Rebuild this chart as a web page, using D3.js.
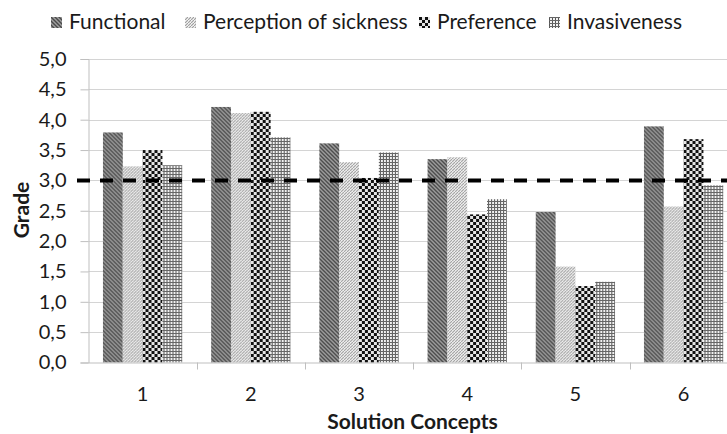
<!DOCTYPE html>
<html><head><meta charset="utf-8">
<script src="https://cdn.jsdelivr.net/npm/d3@7"></script>
<style>
html,body{margin:0;padding:0;background:#fff;}
svg{display:block;font-family:Lato, "Open Sans", sans-serif;}
</style></head>
<body><svg id="chart" width="727" height="434"></svg>
<script>
const categories = ["1","2","3","4","5","6"];
const seriesNames = ["Functional","Perception of sickness","Preference","Invasiveness"];
const functional = [3.79, 4.21, 3.61, 3.35, 2.48, 3.89];
const perception = [3.23, 4.11, 3.30, 3.38, 1.58, 2.57];
const preference = [3.50, 4.13, 3.04, 2.44, 1.26, 3.68];
const invasiveness = [3.25, 3.71, 3.46, 2.69, 1.33, 2.92];
const yTicks = [0,0.5,1,1.5,2,2.5,3,3.5,4,4.5,5];
const threshold = 3.0;
const seriesValues = [functional, perception, preference, invasiveness];

const svg = d3.select("#chart");
const defs = svg.append("defs");

// patterns
const p0 = defs.append("pattern").attr("id","pat0").attr("patternUnits","userSpaceOnUse").attr("width",4).attr("height",4);
p0.append("rect").attr("width",4).attr("height",4).attr("fill","#a0a0a0");
p0.append("path").attr("d","M-1,-1L5,5M3,-1L5,1M-1,3L1,5").attr("stroke","#4a4a4a").attr("stroke-width",1.4);

const p1 = defs.append("pattern").attr("id","pat1").attr("patternUnits","userSpaceOnUse").attr("width",3).attr("height",3);
p1.append("rect").attr("width",3).attr("height",3).attr("fill","#f4f4f4");
p1.append("path").attr("d","M-1,4L4,-1").attr("stroke","#9c9c9c").attr("stroke-width",1.1);

const p2 = defs.append("pattern").attr("id","pat2").attr("patternUnits","userSpaceOnUse").attr("width",6).attr("height",6);
p2.append("rect").attr("width",6).attr("height",6).attr("fill","#e6e6e6");
p2.append("rect").attr("width",3).attr("height",3).attr("fill","#111");
p2.append("rect").attr("x",3).attr("y",3).attr("width",3).attr("height",3).attr("fill","#111");

const p3 = defs.append("pattern").attr("id","pat3").attr("patternUnits","userSpaceOnUse").attr("width",3).attr("height",3);
p3.append("rect").attr("width",3).attr("height",3).attr("fill","#f2f2f2");
p3.append("rect").attr("width",1).attr("height",3).attr("fill","#555");
p3.append("rect").attr("width",3).attr("height",1).attr("fill","#666");

const fills = ["url(#pat0)","url(#pat1)","url(#pat2)","url(#pat3)"];

const left = 88.5, bandStep = 108.2;
const x0 = d3.scaleBand().domain(categories).range([left, left + bandStep*categories.length]).padding(0);
const x1 = d3.scaleBand().domain(seriesNames).range([0, x0.bandwidth()]).paddingInner(0).paddingOuter(0.73);
const y = d3.scaleLinear().domain([0,5]).range([362.5, 59]);

// gridlines
svg.append("g").selectAll("line").data(yTicks.slice(1)).join("line")
  .attr("x1", left).attr("x2", 727)
  .attr("y1", d=>Math.round(y(d))+0.5).attr("y2", d=>Math.round(y(d))+0.5)
  .attr("stroke","#d4d4d4").attr("stroke-width",1.2);

// y axis
const yAxis = d3.axisLeft(y).tickValues(yTicks).tickSize(8).tickPadding(14)
  .tickFormat(d => d3.format(".1f")(d).replace(".", ","));
const gy = svg.append("g").attr("transform", `translate(${left},0)`).call(yAxis);
gy.select(".domain").attr("stroke","#bfbfbf");
gy.selectAll(".tick line").attr("stroke","#bfbfbf");
gy.selectAll(".tick text").attr("fill","#1a1a1a").style("font-size","20px").style("font-family","Lato");

// bars
const groups = svg.append("g").selectAll("g").data(categories).join("g")
  .attr("transform", c => `translate(${x0(c)},0)`);
groups.selectAll("rect").data((c,i) => seriesNames.map((s,j) => ({s, j, v: seriesValues[j][i]}))).join("rect")
  .attr("x", d => x1(d.s)).attr("width", x1.bandwidth())
  .attr("y", d => y(d.v)).attr("height", d => y(0) - y(d.v))
  .attr("fill", d => fills[d.j]);

// x axis
const xAxis = d3.axisBottom(x0).tickSize(0).tickPadding(24);
const gx = svg.append("g").attr("transform", `translate(0,${y(0)})`).call(xAxis);
gx.select(".domain").attr("stroke","#bfbfbf");
gx.selectAll(".tick text").attr("fill","#1a1a1a").style("font-size","20px").style("font-family","Lato");
// boundary ticks
svg.append("g").selectAll("line").data(categories.slice(1)).join("line")
  .attr("x1", c=>Math.round(x0(c))+0.5).attr("x2", c=>Math.round(x0(c))+0.5)
  .attr("y1", y(0)).attr("y2", y(0)+7).attr("stroke","#bfbfbf");

// threshold dashed line
svg.append("line").attr("x1", 77).attr("x2", 727)
  .attr("y1", y(threshold)).attr("y2", y(threshold))
  .attr("stroke","#000").attr("stroke-width",4).attr("stroke-dasharray","13,10");

// axis titles
svg.append("text").attr("x", 412.5).attr("y", 429).attr("text-anchor","middle")
  .style("font-size","21px").style("font-weight","bold").attr("fill","#1a1a1a").text("Solution Concepts");
svg.append("text").attr("transform","translate(29,210) rotate(-90)").attr("text-anchor","middle")
  .style("font-size","21px").style("font-weight","bold").attr("fill","#1a1a1a").text("Grade");

// legend
const legendX = [51, 185, 419, 549];
const lg = svg.append("g").selectAll("g").data(seriesNames).join("g")
  .attr("transform", (d,i) => `translate(${legendX[i]},17)`);
lg.append("rect").attr("width",11).attr("height",11).attr("fill",(d,i)=>fills[i]);
lg.append("text").attr("x",18).attr("y",11.5).style("font-size","21px").attr("fill","#1a1a1a").text(d=>d);
</script></body></html>
